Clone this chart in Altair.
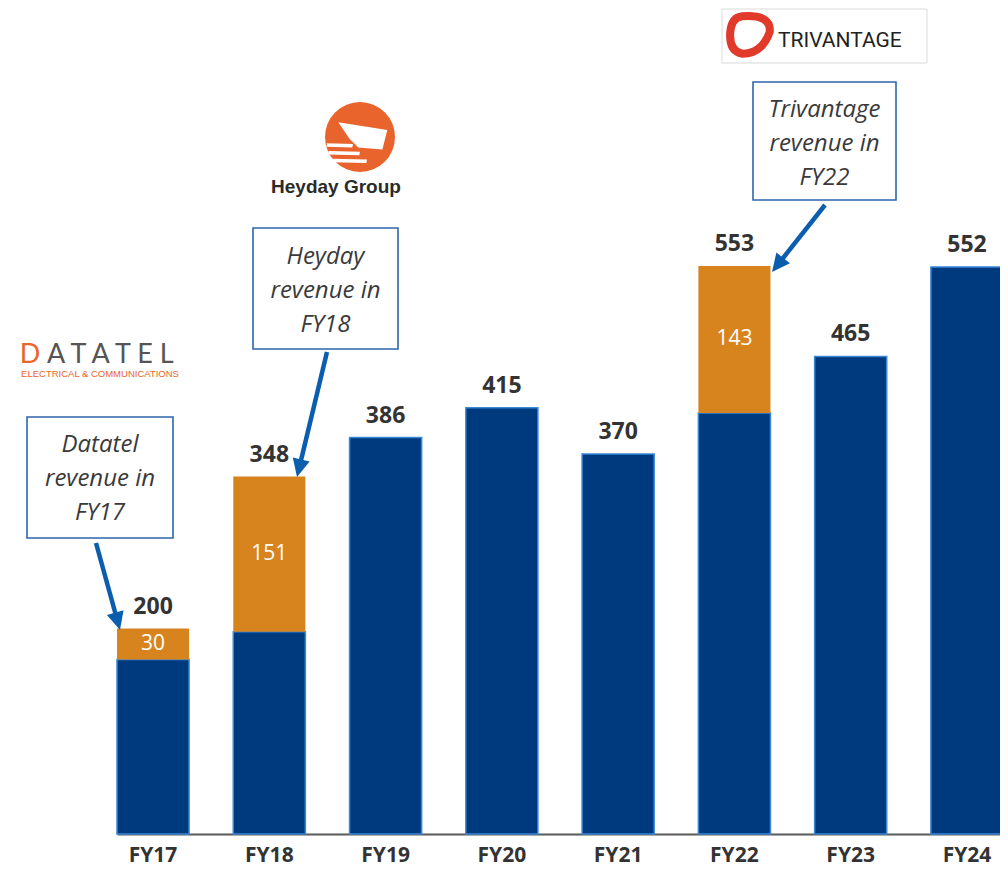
import math
import altair as alt
import pandas as pd

# ---------------- data ----------------
years = ["FY17", "FY18", "FY19", "FY20", "FY21", "FY22", "FY23", "FY24"]
totals = [200, 348, 386, 415, 370, 553, 465, 552]
acquired = [30, 151, 0, 0, 0, 143, 0, 0]

note_texts = ["Datatel\nrevenue in\nFY17", "Heyday\nrevenue in\nFY18", "Trivantage\nrevenue in\nFY22"]

# ---------------- layout (pixels) ----------------
W, H = 906, 826
PAD_L, PAD_B = 86, 36
OX, OY = 94, 8          # page position of plot origin
PX_PER_UNIT = 1.027


def px(x):
    return x - OX


def py(y):
    return y - OY


NAVY = "#003A7E"
NAVY_EDGE = "#3A87D6"
ORANGE = "#D8841E"
ARROW = "#0B5EAE"
BOX = "#2E66AA"
TXT = "#333333"
FONT = "Open Sans"

df = pd.DataFrame({
    "year": years,
    "total": totals,
    "acq": acquired,
})
df["base"] = df["total"] - df["acq"]
df["zero"] = 0
df["mid"] = df["base"] + df["acq"] / 2

xs = alt.Scale(domain=years, range=[23, 909], paddingInner=0.38, paddingOuter=0)
ys = alt.Scale(domain=[0, H / PX_PER_UNIT], nice=False, zero=True)

X = alt.X("year:N", scale=xs, sort=years,
          axis=alt.Axis(title=None, ticks=False, labelAngle=0, labelFont=FONT,
                        labelFontWeight="bold", labelFontSize=21, labelColor=TXT,
                        labelPadding=10, domainColor="#595959", domainWidth=2,
                        grid=False, labelBaseline="top"))

base_bars = alt.Chart(df).mark_bar(color=NAVY, stroke=NAVY_EDGE, strokeWidth=1.5).encode(
    x=X,
    y=alt.Y("zero:Q", scale=ys, axis=None),
    y2="base:Q",
)

acq_df = df[df["acq"] > 0]
acq_bars = alt.Chart(acq_df).mark_bar(color=ORANGE).encode(
    x=alt.X("year:N", scale=xs, sort=years),
    y=alt.Y("base:Q", scale=ys, axis=None),
    y2="total:Q",
)

total_labels = alt.Chart(df).mark_text(
    dy=-15, baseline="alphabetic", font=FONT, fontWeight="bold", fontSize=23, color=TXT
).encode(
    x=alt.X("year:N", scale=xs, sort=years),
    y=alt.Y("total:Q", scale=ys, axis=None),
    text=alt.Text("total:Q"),
)

acq_labels = alt.Chart(acq_df).mark_text(
    baseline="middle", font=FONT, fontSize=21, color="white"
).encode(
    x=alt.X("year:N", scale=xs, sort=years),
    y=alt.Y("mid:Q", scale=ys, axis=None),
    text=alt.Text("acq:Q"),
)

one = pd.DataFrame({"k": [0]})
layers = [base_bars, acq_bars, total_labels, acq_labels]

# ---------------- annotation boxes ----------------
# (left, top, right, bottom, centre of first text line)
boxes = [(27, 417, 173, 538, 445), (253, 228, 398, 349, 257), (753, 82, 896, 200, 110)]
for (x1, y1, x2, y2, cy), txt in zip(boxes, note_texts):
    layers.append(alt.Chart(one).mark_rect(fill="white", stroke=BOX, strokeWidth=1.6).encode(
        x=alt.value(px(x1)), x2=alt.value(px(x2)), y=alt.value(py(y1)), y2=alt.value(py(y2))))
    layers.append(alt.Chart(one).mark_text(
        text=txt, lineBreak="\n", lineHeight=34, align="center", baseline="middle",
        font=FONT, fontStyle="italic", fontSize=24, color="#3A3A3A").encode(
        x=alt.value(px((x1 + x2) / 2)), y=alt.value(py(cy))))

# ---------------- arrows ----------------
arrows = [((96, 543), (120, 630)), ((327, 352), (297, 477)), ((825, 205), (772, 272))]
HEAD = "M 0 0 L 0.48 1 L -0.48 1 Z"
for (sx, sy), (tx, ty) in arrows:
    dx, dy = tx - sx, ty - sy
    L = math.hypot(dx, dy)
    ux, uy = dx / L, dy / L
    ex, ey = tx - ux * 14, ty - uy * 14
    ang = math.degrees(math.atan2(dx, -dy)) % 360
    layers.append(alt.Chart(one).mark_rule(color=ARROW, strokeWidth=4.5).encode(
        x=alt.value(px(sx)), y=alt.value(py(sy)), x2=alt.value(px(ex)), y2=alt.value(py(ey))))
    layers.append(alt.Chart(one).mark_point(
        shape=HEAD, filled=True, size=(18 * 2) ** 2, angle=ang, color=ARROW, opacity=1,
        strokeWidth=0).encode(x=alt.value(px(tx)), y=alt.value(py(ty))))

# ---------------- logos ----------------
# Datatel
layers.append(alt.Chart(one).mark_text(
    text="D", align="center", baseline="alphabetic", font="Lato", fontSize=27,
    color="#E8652B").encode(x=alt.value(px(30)), y=alt.value(py(363))))
layers.append(alt.Chart(one).mark_text(
    text="A T A T E L", align="left", baseline="alphabetic", font="Lato", fontSize=27,
    color="#555555").encode(x=alt.value(px(47)), y=alt.value(py(363))))
layers.append(alt.Chart(one).mark_text(
    text="ELECTRICAL & COMMUNICATIONS", align="center", baseline="top", font="Liberation Sans",
    fontSize=9.5, color="#E8652B").encode(x=alt.value(px(100)), y=alt.value(py(369))))

# Heyday
HEY_ORANGE = "#E8642C"
layers.append(alt.Chart(one).mark_point(shape="circle", filled=True, size=70 ** 2,
                                        color=HEY_ORANGE, opacity=1).encode(
    x=alt.value(px(360)), y=alt.value(py(137))))
FLAG = ("M -0.62 -0.42 L 0.78 -0.2 L 0.64 0.36 L -0.05 0.3 L -0.3 0.05 Z "
        "M -0.95 0.18 L -0.2 0.2 L -0.22 0.3 L -0.95 0.28 Z "
        "M -0.9 0.4 L 0.0 0.42 L -0.02 0.52 L -0.9 0.5 Z "
        "M -0.8 0.62 L 0.2 0.64 L 0.18 0.74 L -0.8 0.72 Z")
layers.append(alt.Chart(one).mark_point(shape=FLAG, filled=True, size=70 ** 2,
                                        color="white", opacity=1, strokeWidth=0).encode(
    x=alt.value(px(360)), y=alt.value(py(137))))
layers.append(alt.Chart(one).mark_text(
    text="Heyday Group", align="center", baseline="alphabetic", font="Liberation Sans",
    fontWeight="bold", fontSize=19, color="#2B2B2B").encode(
    x=alt.value(px(336)), y=alt.value(py(193))))

# Trivantage
layers.append(alt.Chart(one).mark_rect(fill="white", stroke="#DADADA", strokeWidth=1).encode(
    x=alt.value(px(722)), x2=alt.value(px(927)), y=alt.value(py(9)), y2=alt.value(py(63))))
RING = ("M -0.35 -0.85 Q 0.95 -0.95 0.9 -0.15 Q 0.55 0.85 -0.35 0.85 "
        "Q -0.95 0.75 -0.9 -0.1 Q -0.85 -0.8 -0.35 -0.85 Z")
layers.append(alt.Chart(one).mark_point(shape=RING, filled=False, size=44 ** 2, color="#E23A2A",
                                        strokeWidth=8, strokeJoin="round", opacity=1).encode(
    x=alt.value(px(750)), y=alt.value(py(35))))
layers.append(alt.Chart(one).mark_text(
    text="TRIVANTAGE", align="left", baseline="alphabetic", font="Roboto",
    fontSize=21, color="#222222").encode(x=alt.value(px(778)), y=alt.value(py(47))))

chart = alt.layer(*layers).properties(
    width=W, height=H,
    padding={"left": PAD_L, "top": 0, "right": 0, "bottom": PAD_B},
    autosize=alt.AutoSizeParams(type="none"),
).configure(background="white").configure_view(stroke=None)

chart.save("out.html", embed_options={"renderer": "svg", "actions": False})
